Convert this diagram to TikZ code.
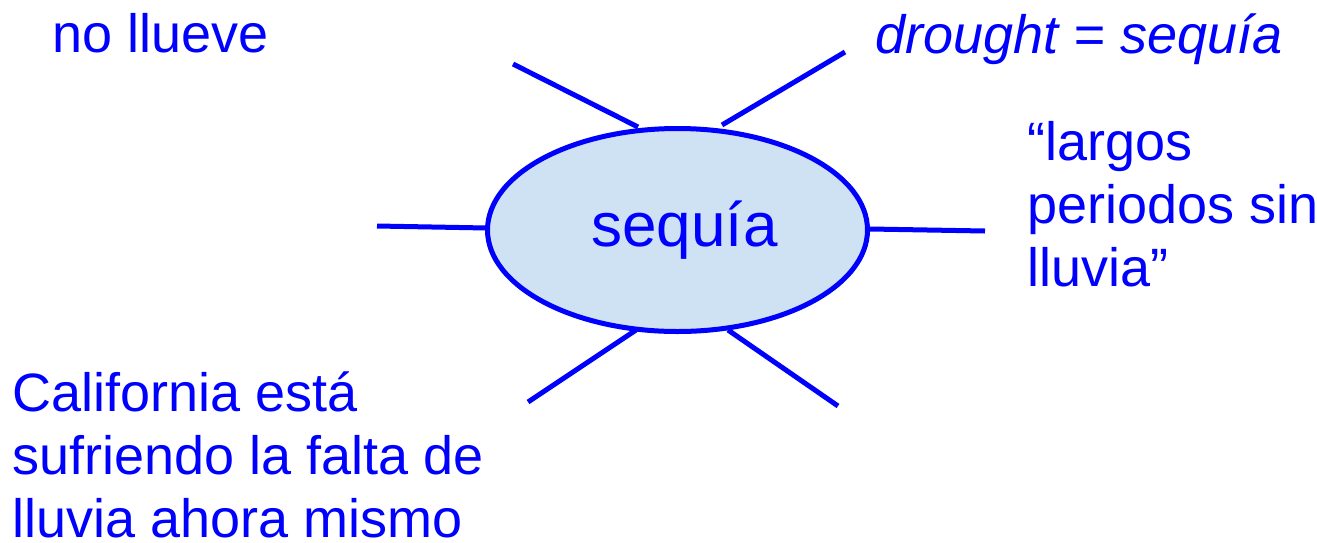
\documentclass[tikz,border=0pt]{standalone}
\usepackage{fontspec}
\setmainfont{Liberation Sans}
\usetikzlibrary{shapes.geometric}
\definecolor{tblue}{RGB}{0,0,255}
\definecolor{efill}{RGB}{207,226,243}
\begin{document}
\begin{tikzpicture}[x=0.5pt,y=-0.5pt,
  spoke/.style={draw=tblue,line width=2.5pt},
  lbl/.style={text=tblue,font=\fontsize{27}{31.5}\selectfont,inner sep=0pt,anchor=base west,align=left}]
\useasboundingbox (0,0) rectangle (1317,542);
\coordinate (tlo) at (513,64);   \coordinate (tli) at (638,127);
\coordinate (tro) at (845,52);   \coordinate (tri) at (722,125);
\coordinate (lo)  at (377,226);  \coordinate (li)  at (487,228);
\coordinate (ro)  at (985,231);  \coordinate (ri)  at (870,229);
\coordinate (blo) at (528,402);  \coordinate (bli) at (636,330);
\coordinate (bro) at (838,406);  \coordinate (bri) at (728,330);
\draw[spoke] (tlo) -- (tli);
\draw[spoke] (tro) -- (tri);
\draw[spoke] (lo) -- (li);
\draw[spoke] (ro) -- (ri);
\draw[spoke] (blo) -- (bli);
\draw[spoke] (bro) -- (bri);
\node[ellipse,draw=tblue,fill=efill,line width=2.5pt,minimum width=190pt,minimum height=101.5pt,inner sep=0pt,text=tblue,font=\fontsize{31}{36}\selectfont] (s) at (677.5,230) {\hspace*{7pt}sequía};
\node[lbl] (nl) at (52,52) {no llueve};
\node[lbl] (dr) at (875,53) {\textit{drought = sequía}};
\node[lbl] (lp) at (1027,286) {“largos\\periodos sin\\lluvia”};
\node[lbl] (ca) at (12,537) {California está\\sufriendo la falta de\\lluvia ahora mismo};
\end{tikzpicture}
\end{document}
